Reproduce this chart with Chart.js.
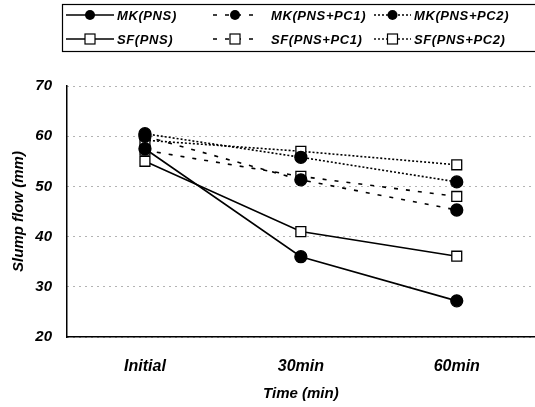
<!DOCTYPE html>
<html>
<head>
<meta charset="utf-8">
<script src="https://cdn.jsdelivr.net/npm/chart.js@4"></script>
<style>
  html, body { margin: 0; padding: 0; background: #fff; overflow: hidden; }
  #wrap { width: 543px; height: 407px; position: relative; }
</style>
</head>
<body>
<div id="wrap"><canvas id="chart"></canvas></div>
<script>
const labels = ["Initial", "30min", "60min"];
const seriesNames = ["MK(PNS)", "MK(PNS+PC1)", "MK(PNS+PC2)", "SF(PNS)", "SF(PNS+PC1)", "SF(PNS+PC2)"];
const mkPNS = [57.5, 36, 27.2];
const mkPC1 = [60, 51.3, 45.3];
const mkPC2 = [60.5, 55.8, 50.9];
const sfPNS = [55, 41, 36.1];
const sfPC1 = [57.2, 52, 48];
const sfPC2 = [59.2, 57, 54.3];
const yTicks = [20, 30, 40, 50, 60, 70];

const FONT = "'Liberation Sans', Arial, sans-serif";

const makeSet = (label, data, dash, isCircle) => ({
  label: label,
  data: data,
  borderColor: "#000",
  borderWidth: 1.6,
  borderDash: dash,
  pointStyle: isCircle ? "circle" : "rect",
  pointRadius: isCircle ? 6 : 7,
  pointBackgroundColor: isCircle ? "#000" : "#fff",
  pointBorderColor: "#000",
  pointBorderWidth: 1.3,
  tension: 0,
});

const datasets = [
  makeSet(seriesNames[0], mkPNS, [], true),
  makeSet(seriesNames[1], mkPC1, [4, 8], true),
  makeSet(seriesNames[2], mkPC2, [2, 2], true),
  makeSet(seriesNames[3], sfPNS, [], false),
  makeSet(seriesNames[4], sfPC1, [4, 8], false),
  makeSet(seriesNames[5], sfPC2, [2, 2], false),
];

// legend box drawn on top of the chart, 2 rows x 3 columns
const boxLegend = {
  id: "boxLegend",
  afterDraw(chart) {
    const ctx = chart.ctx;
    ctx.save();
    ctx.strokeStyle = "#000";
    ctx.lineWidth = 1.2;
    ctx.strokeRect(62.5, 4.5, 480, 47);
    const cols = [
      { x0: 66, x1: 114, tx: 117 },
      { x0: 213, x1: 257, tx: 271 },
      { x0: 374, x1: 411, tx: 414 },
    ];
    const rows = [15, 39];
    const order = [[0, 1, 2], [3, 4, 5]];
    order.forEach((row, r) => {
      row.forEach((idx, c) => {
        const ds = chart.data.datasets[idx];
        const col = cols[c];
        const y = rows[r];
        ctx.setLineDash(ds.borderDash);
        ctx.lineWidth = 1.4;
        ctx.beginPath();
        ctx.moveTo(col.x0, y);
        ctx.lineTo(col.x1, y);
        ctx.stroke();
        ctx.setLineDash([]);
        const mx = (col.x0 + col.x1) / 2;
        ctx.lineWidth = 1.2;
        if (ds.pointStyle === "circle") {
          ctx.fillStyle = "#000";
          ctx.beginPath();
          ctx.arc(mx, y, 5, 0, Math.PI * 2);
          ctx.fill();
        } else {
          ctx.fillStyle = "#fff";
          ctx.fillRect(mx - 5, y - 5, 10, 10);
          ctx.strokeRect(mx - 5, y - 5, 10, 10);
        }
        ctx.fillStyle = "#000";
        ctx.font = "italic bold 13px " + FONT;
        ctx.letterSpacing = "0.6px";
        ctx.textBaseline = "middle";
        ctx.textAlign = "left";
        ctx.fillText(ds.label, col.tx, y + 1);
        ctx.letterSpacing = "0px";
      });
    });
    ctx.restore();
  },
};

const config = {
  type: "line",
  data: { labels: labels, datasets: datasets },
  options: {
    animation: false,
    responsive: true,
    maintainAspectRatio: false,
    layout: { padding: { top: 86, right: 0, left: 0, bottom: 0 } },
    plugins: {
      legend: { display: false },
      tooltip: { enabled: false },
    },
    scales: {
      x: {
        offset: true,
        afterFit: (axis) => { axis.height = 70; },
        border: { color: "#000", width: 1.5 },
        grid: { display: false },
        ticks: {
          color: "#000",
          padding: 12,
          font: { family: FONT, size: 16, style: "italic", weight: "bold" },
        },
        title: {
          display: true,
          text: "Time (min)",
          color: "#000",
          padding: { top: 0, bottom: 4 },
          font: { family: FONT, size: 15, style: "italic", weight: "bold" },
        },
      },
      y: {
        min: 20,
        max: 70,
        afterBuildTicks: (axis) => {
          axis.ticks = yTicks.map((v) => ({ value: v }));
        },
        afterFit: (axis) => { axis.width = 67; },
        border: { color: "#000", width: 1.5, dash: [1, 5] },
        grid: {
          color: "#666",
          lineWidth: 1,
          drawTicks: false,
        },
        ticks: {
          color: "#000",
          padding: 15,
          font: { family: FONT, size: 15, style: "italic", weight: "bold" },
        },
        title: {
          display: true,
          text: "Slump flow (mm)",
          color: "#000",
          padding: { top: 10, bottom: 0 },
          font: { family: FONT, size: 15, style: "italic", weight: "bold" },
        },
      },
    },
  },
  plugins: [boxLegend],
};

new Chart(document.getElementById("chart"), config);
</script>
</body>
</html>
